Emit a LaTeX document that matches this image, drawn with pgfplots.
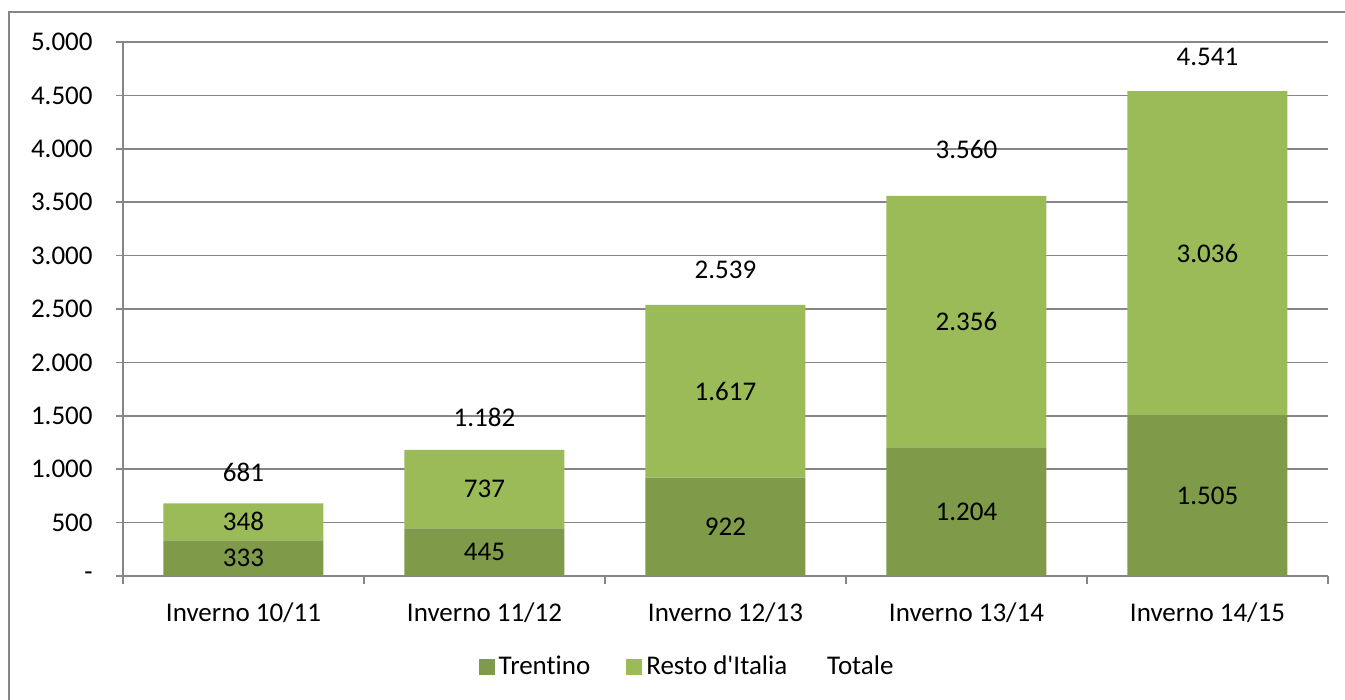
\documentclass[border=0pt]{standalone}
\usepackage{fontspec}
\setmainfont{Carlito}[Ligatures={NoCommon}]
\usepackage{pgfplots}
\pgfplotsset{compat=1.18}
\definecolor{dgreen}{HTML}{7F9A48}
\definecolor{lgreen}{HTML}{9BBB59}
\definecolor{axgray}{HTML}{868686}
\begin{document}
\fontsize{13.5}{16}\selectfont
\begin{tikzpicture}
\useasboundingbox (0,0) rectangle (672.5pt,350pt);
\draw[axgray, line width=1pt] (4.5pt,-5pt) -- (4.5pt,344pt) -- (680pt,344pt);
\pgfplotsset{
  common/.style={
    at={(61.5pt,62pt)}, anchor=south west,
    scale only axis, width=602.5pt, height=267pt,
    xmin=-0.5, xmax=4.5, ymin=0, ymax=5000,
  }
}
\begin{axis}[common,
  ybar stacked, bar width=80pt,
  axis lines*=left,
  axis line style={axgray, line width=0.75pt},
  ytick={0,500,...,5000},
  yticklabels={-,500,1.000,1.500,2.000,2.500,3.000,3.500,4.000,4.500,5.000},
  ymajorgrids, grid style={axgray, line width=0.75pt},
  tick align=outside, major tick length=3.5pt,
  ytick style={axgray, line width=0.75pt},
  yticklabel style={xshift=-7pt},
  xtick={0,1,2,3,4},
  xticklabels={Inverno 10/11,Inverno 11/12,Inverno 12/13,Inverno 13/14,Inverno 14/15},
  xtick style={draw=none},
  xticklabel style={yshift=-5pt},
  extra x ticks={-0.5,0.5,1.5,2.5,3.5,4.5},
  extra x tick labels={},
  extra x tick style={major tick length=4pt, xtick style={draw=axgray, line width=0.75pt}},
  legend style={at={(0.469,-0.17)}, anchor=center, draw=none, fill=none,
    legend columns=3, /tikz/every even column/.append style={column sep=16pt}},
  legend image code/.code={\fill[#1] (0pt,-4pt) rectangle (8pt,4pt);},
]
\addplot[fill=dgreen, draw=none] coordinates {(0,333) (1,445) (2,922) (3,1204) (4,1505)};
\addlegendentry{Trentino}
\addplot[fill=lgreen, draw=none] coordinates {(0,348) (1,737) (2,1617) (3,2356) (4,3036)};
\addlegendentry{Resto d\textquotesingle Italia\hspace{4pt}}
\addlegendimage{empty legend}
\addlegendentry{Totale}
\end{axis}
\begin{axis}[common, hide axis]
\addplot[draw=none, nodes near coords, point meta=explicit symbolic,
  every node near coord/.style={anchor=center, text=black}] coordinates {
  (0,166.5)[333] (1,222.5)[445] (2,461)[922] (3,602)[1.204] (4,752.5)[1.505]
  (0,507)[348] (1,813.5)[737] (2,1730.5)[1.617] (3,2382)[2.356] (4,3023)[3.036]
  (0,974)[681] (1,1489)[1.182] (2,2865)[2.539] (3,3989)[3.560] (4,4860)[4.541]
};
\end{axis}
\end{tikzpicture}
\end{document}
